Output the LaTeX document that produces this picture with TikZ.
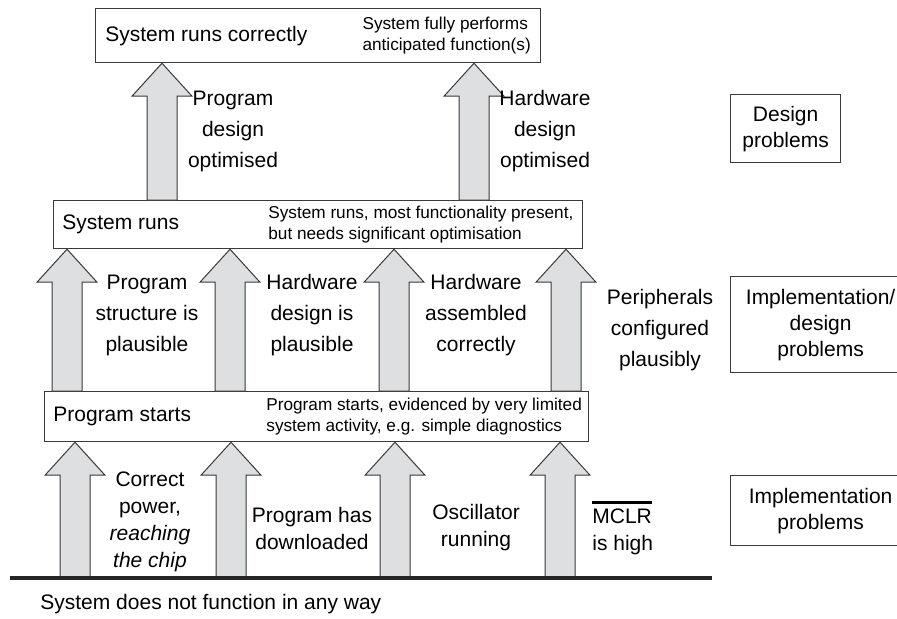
\documentclass[tikz,border=0pt]{standalone}
\usepackage{fontspec}
\setmainfont{Liberation Sans}
\usetikzlibrary{positioning,calc}
\definecolor{liftfill}{HTML}{DEDFE1}
\definecolor{edge}{HTML}{3A3A3A}

\newcommand{\barred}[1]{\setbox0\hbox{#1}\rlap{\raisebox{\dimexpr\ht0+2.6pt\relax}{\rule{\wd0}{1.1pt}}}\box0}

% block arrow: x position, base point, tip point
\newcommand{\lift}[3]{%
  \draw[lift] ($(#1,0 |- #2)+(-15,0)$) -- ($(#1,0 |- #3)+(-15,33)$) -- ++(-15,0)
    -- (#1,0 |- #3) -- ($(#1,0 |- #3)+(30,33)$) -- ++(-15,0)
    -- ($(#1,0 |- #2)+(15,0)$) -- cycle;}

\tikzset{
  stage/.style={draw=edge, fill=white, line width=0.6pt, inner sep=0pt, anchor=north west},
  bigtxt/.style={font=\fontsize{10.5}{15.5}\selectfont, inner sep=0pt, align=center},
  lowtxt/.style={font=\fontsize{10.5}{13.5}\selectfont, inner sep=0pt, align=center},
  smalltxt/.style={font=\fontsize{8.6}{10.8}\selectfont, inner sep=0pt, align=left},
  problem/.style={draw=edge, line width=0.6pt, font=\fontsize{10.5}{13}\selectfont,
    align=center, inner sep=0pt, anchor=north west},
  lift/.style={draw=edge, fill=liftfill, line width=0.5pt},
  ground/.style={line width=2pt, black!85},
}

\begin{document}
\begin{tikzpicture}[x=0.5pt, y=-0.5pt]
\useasboundingbox (0,0) rectangle (897,618);

% the three stages
\node[stage, minimum width=222.5pt, minimum height=27pt] (works) at (95,8) {};
\node[bigtxt, right=5pt of works.west, anchor=west] (worksL) {System runs correctly};
\node[smalltxt, left=5pt of works.east, anchor=east] (worksR) {System fully performs\\anticipated function(s)};

\node[stage, minimum width=264.5pt, minimum height=24pt] (runs) at (53,200) {};
\node[bigtxt, right=4.5pt of runs.west, anchor=west] (runsL) {System runs};
\node[smalltxt, anchor=west] (runsR) at ($(runs.west)+(215,0)$) {System runs, most functionality present,\\but needs significant optimisation};

\node[stage, minimum width=272pt, minimum height=25pt] (start) at (44,391) {};
\node[bigtxt, right=4.5pt of start.west, anchor=west] (startL) {Program starts};
\node[smalltxt, anchor=west] (startR) at ($(start.west)+(222,0)$) {Program starts, evidenced by very limited\\system activity, e.g. simple diagnostics};

% ground
\coordinate (gndL) at (10,578);
\coordinate (gndR) at (712,578);

% arrows between the stages
\lift{75}{gndL}{start.south}
\lift{231}{gndL}{start.south}
\lift{395}{gndL}{start.south}
\lift{560}{gndL}{start.south}
\lift{67}{start.north}{runs.south}
\lift{230}{start.north}{runs.south}
\lift{394}{start.north}{runs.south}
\lift{566}{start.north}{runs.south}
\lift{162}{runs.north}{works.south}
\lift{474}{runs.north}{works.south}

\draw[ground] (gndL) -- (gndR);
\node[bigtxt, anchor=west] (nofunc) at (40,604) {System does not function in any way};

% arrow labels
\node[bigtxt] (optProg) at (233,131) {Program\\design\\optimised};
\node[bigtxt] (optHard) at (545,131) {Hardware\\design\\optimised};

\node[bigtxt] (plProg) at (147,315) {Program\\structure is\\plausible};
\node[bigtxt] (plHard) at (312,315) {Hardware\\design is\\plausible};
\node[bigtxt] (asmHard) at (476,315) {Hardware\\assembled\\correctly};
\node[bigtxt] (perif) at (660,330) {Peripherals\\configured\\plausibly};

\node[lowtxt] (power) at (150,522) {Correct\\power,\\\textit{reaching}\\\textit{the chip}};
\node[lowtxt] (dload) at (312,528) {Program has\\downloaded};
\node[lowtxt] (osc) at (476,528) {Oscillator\\running};
\node[lowtxt, anchor=west, align=left] (mclr) at (592,528) {\barred{MCLR}\\is high};

% problem classes
\node[problem, minimum width=55pt, minimum height=34pt] (desProb) at (730,94) {Design\\problems};
\node[problem, minimum width=90pt, minimum height=48pt] (mixProb) at (730,276) {Implementation/\\design\\problems};
\node[problem, minimum width=90pt, minimum height=35pt] (impProb) at (730,475) {Implementation\\problems};
\end{tikzpicture}
\end{document}
